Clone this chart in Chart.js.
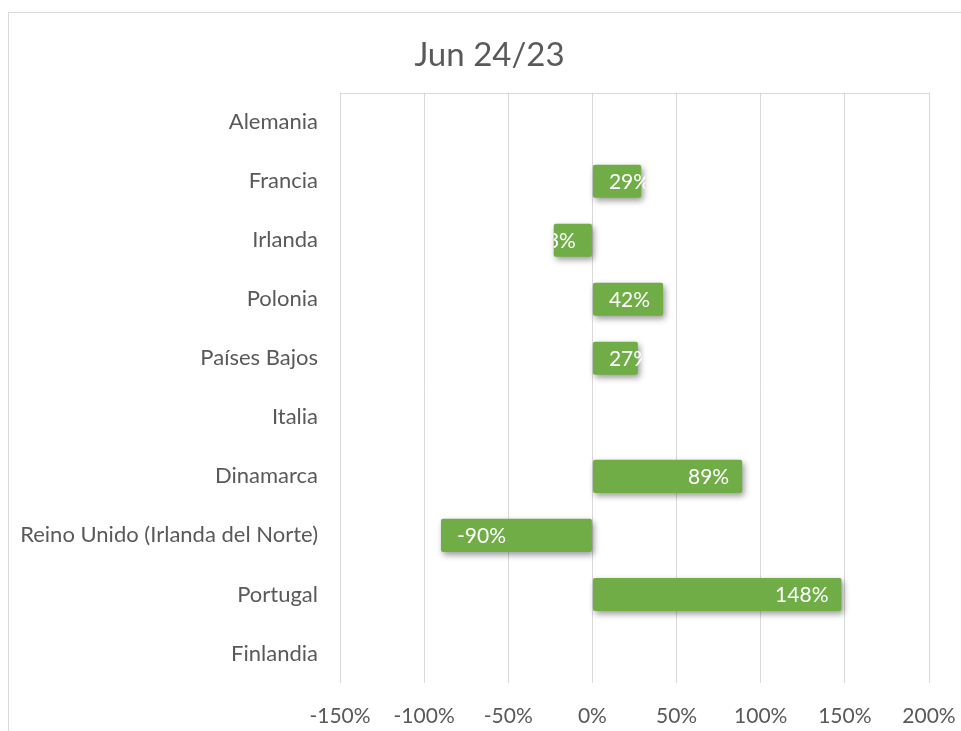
<!DOCTYPE html>
<html>
<head>
<meta charset="utf-8">
<script src="https://cdn.jsdelivr.net/npm/chart.js@4.4.1/dist/chart.umd.min.js"></script>
<style>
    html, body { margin: 0; padding: 0; background: #fff; overflow: hidden; }
    #marco { position: absolute; left: 8px; top: 12px; width: 1200px; height: 1000px; border: 1px solid #d9d9d9; }
    #grafico { position: absolute; left: 0; top: 0; }
</style>
</head>
<body>
<div id="marco"></div>
<canvas id="grafico" width="961" height="731"></canvas>
<script>
const paises = ['Alemania', 'Francia', 'Irlanda', 'Polonia', 'Países Bajos', 'Italia', 'Dinamarca', 'Reino Unido (Irlanda del Norte)', 'Portugal', 'Finlandia']
const variacion = [null, 29, -23, 42, 27, null, 89, -90, 148, null]
const ejeMin = -150
const ejeMax = 200
const ejePaso = 50

const fuente = 'Lato, "Open Sans", sans-serif'

// sombra de las barras y etiquetas blancas dentro de la barra (como Excel)
const etiquetas = {
    id: 'etiquetas',
    afterLayout(chart) {
        // el título de Excel va centrado sobre todo el marco, no sobre el lienzo
        chart.titleBlock.left = 50
    },
    beforeDatasetDraw(chart) {
        const ctx = chart.ctx
        ctx.save()
        ctx.shadowColor = 'rgba(0,0,0,0.4)'
        ctx.shadowBlur = 6
        ctx.shadowOffsetX = 2
        ctx.shadowOffsetY = 3
    },
    afterDatasetDraw(chart) {
        const ctx = chart.ctx
        ctx.restore()
        const meta = chart.getDatasetMeta(0)
        ctx.save()
        ctx.font = '21px ' + fuente
        ctx.fillStyle = '#ffffff'
        ctx.textBaseline = 'middle'
        ctx.textAlign = 'left'
        meta.data.forEach((bar, i) => {
            const v = variacion[i]
            if (v === null) return
            const txt = v + '%'
            const w = ctx.measureText(txt).width
            let x
            if (v >= 0) x = Math.max(bar.x - 13 - w, bar.base + 16)
            else x = Math.min(bar.x + 16, bar.base - 16 - w)
            const izq = Math.min(bar.x, bar.base)
            const der = Math.max(bar.x, bar.base)
            ctx.save()
            ctx.beginPath()
            ctx.rect(izq, bar.y - bar.height / 2, der - izq + 4, bar.height)
            ctx.clip()
            ctx.fillText(txt, x, bar.y + 1)
            ctx.restore()
        })
        ctx.restore()
    },
    afterDraw(chart) {
        // línea superior del área de trazado
        const a = chart.chartArea
        const ctx = chart.ctx
        ctx.save()
        ctx.strokeStyle = '#d9d9d9'
        ctx.lineWidth = 1
        ctx.beginPath()
        ctx.moveTo(a.left, Math.round(a.top) + 0.5)
        ctx.lineTo(a.right, Math.round(a.top) + 0.5)
        ctx.stroke()
        ctx.restore()
    }
}

const grafico = new Chart(document.getElementById('grafico').getContext('2d'), {
    type: 'bar',
    data: {
        labels: paises,
        datasets: [
            {
                data: variacion,
                backgroundColor: '#70AD47',
                borderRadius: 2,
                borderSkipped: false,
                categoryPercentage: 1,
                barPercentage: 0.56,
            }
        ]
    },
    options: {
        indexAxis: 'y',
        responsive: false,
        animation: false,
        devicePixelRatio: 1,
        layout: {
            padding: { left: 0, right: 32, top: 0, bottom: 0 }
        },
        plugins: {
            legend: { display: false },
            tooltip: { enabled: false },
            title: {
                display: true,
                text: 'Jun 24/23',
                color: '#595959',
                font: { family: fuente, size: 33, weight: 'normal' },
                padding: { top: 36, bottom: 17 }
            }
        },
        scales: {
            x: {
                min: ejeMin,
                max: ejeMax,
                ticks: {
                    stepSize: ejePaso,
                    callback: v => v + '%',
                    color: '#595959',
                    font: { family: fuente, size: 21 },
                    padding: 21
                },
                grid: {
                    color: '#d9d9d9',
                    drawTicks: false
                },
                border: { display: false },
                afterFit: s => { s.height = 48; s.paddingLeft = 0; s.paddingRight = 0 }
            },
            y: {
                grid: { display: false, drawTicks: false },
                border: { display: false },
                ticks: {
                    color: '#595959',
                    font: { family: fuente, size: 22 },
                    padding: 22
                },
                afterFit: s => { s.width = 340 }
            }
        }
    },
    plugins: [etiquetas]
});
</script>
</body>
</html>
